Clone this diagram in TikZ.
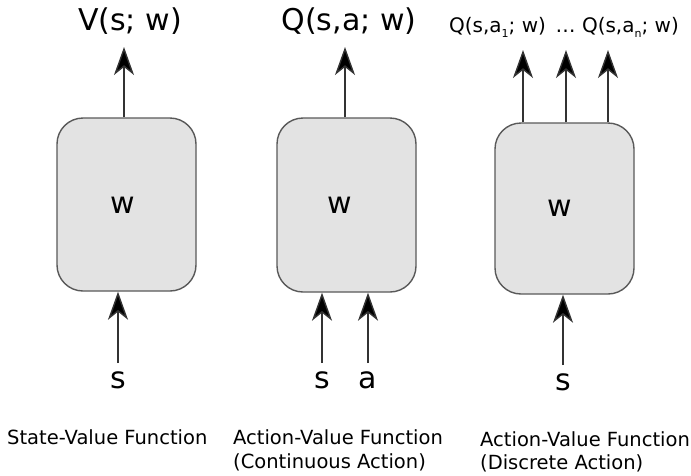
\documentclass[tikz,border=0pt]{standalone}
\usepackage{fontspec}
\setmainfont{DejaVu Sans}
\usetikzlibrary{arrows.meta}
% small lowered index for a_1, a_n
\newcommand\lowidx[1]{\raisebox{-0.28em}{\fontsize{11}{11}\selectfont #1}}

\begin{document}
\begin{tikzpicture}[x=1pt,y=-1pt,
  net/.style={draw=black!65, line width=1.4pt, fill=black!11,
    rounded corners=26pt, minimum width=139pt, inner sep=0pt},
  arr/.style={draw=black!80, line width=1.4pt,
    -{Stealth[length=28pt,width=20pt,inset=8pt,fill=black]}},
  big/.style={font=\fontsize{30}{36}\selectfont, inner sep=0pt, anchor=base},
  mid/.style={font=\fontsize{20}{24}\selectfont, inner sep=0pt, anchor=base},
  captext/.style={font=\fontsize{19.5}{24}\selectfont, inner sep=0pt, anchor=base west}]

\useasboundingbox (0,0) rectangle (691,475);

% the three networks
\node[net, minimum height=173pt] (bV) at (126.5,204.5) {};
\node[net, minimum height=174pt] (bQ) at (346.5,205) {};
\node[net, minimum height=171pt] (bD) at (564.5,208.5) {};

% weights inside each network
\node[big] (wV) at (123,213) {w};
\node[big] (wQ) at (340,213) {w};
\node[big] (wD) at (560,216) {w};

% outputs
\node[big] (oV) at (130,30) {V(s; w)};
\node[big] (oQ) at (349,30) {Q(s,a; w)};
\node[mid] (oD) at (564,32) {Q(s,a\lowidx{1}; w)\, … Q(s,a\lowidx{n}; w)};

\coordinate (tV) at (124,47);
\coordinate (tQ) at (345,47);
\coordinate (tD1) at (523,50);
\coordinate (tD2) at (566,50);
\coordinate (tD3) at (608,50);

\draw[arr] (bV.north -| tV) -- (tV);
\draw[arr] (bQ.north -| tQ) -- (tQ);
\draw[arr] (bD.north -| tD1) -- (tD1);
\draw[arr] (bD.north -| tD2) -- (tD2);
\draw[arr] (bD.north -| tD3) -- (tD3);

% inputs
\node[big] (sV) at (118,388) {s};
\node[big] (sQ) at (322,388) {s};
\node[big] (aQ) at (368,388) {a};
\node[big] (sD) at (563,390) {s};

\coordinate (iV) at (118,363);
\coordinate (iQs) at (322,363);
\coordinate (iQa) at (368,363);
\coordinate (iD) at (563,365);

\draw[arr] (iV) -- (bV.south -| iV);
\draw[arr] (iQs) -- (bQ.south -| iQs);
\draw[arr] (iQa) -- (bQ.south -| iQa);
\draw[arr] (iD) -- (bD.south -| iD);

% captions
\node[captext] (c1) at (7,444) {State-Value Function};
\node[captext] (c2a) at (233,444) {Action-Value Function};
\node[captext] (c2b) at (233,468) {(Continuous Action)};
\node[captext] (c3a) at (480,446) {Action-Value Function};
\node[captext] (c3b) at (480,469) {(Discrete Action)};
\end{tikzpicture}
\end{document}
